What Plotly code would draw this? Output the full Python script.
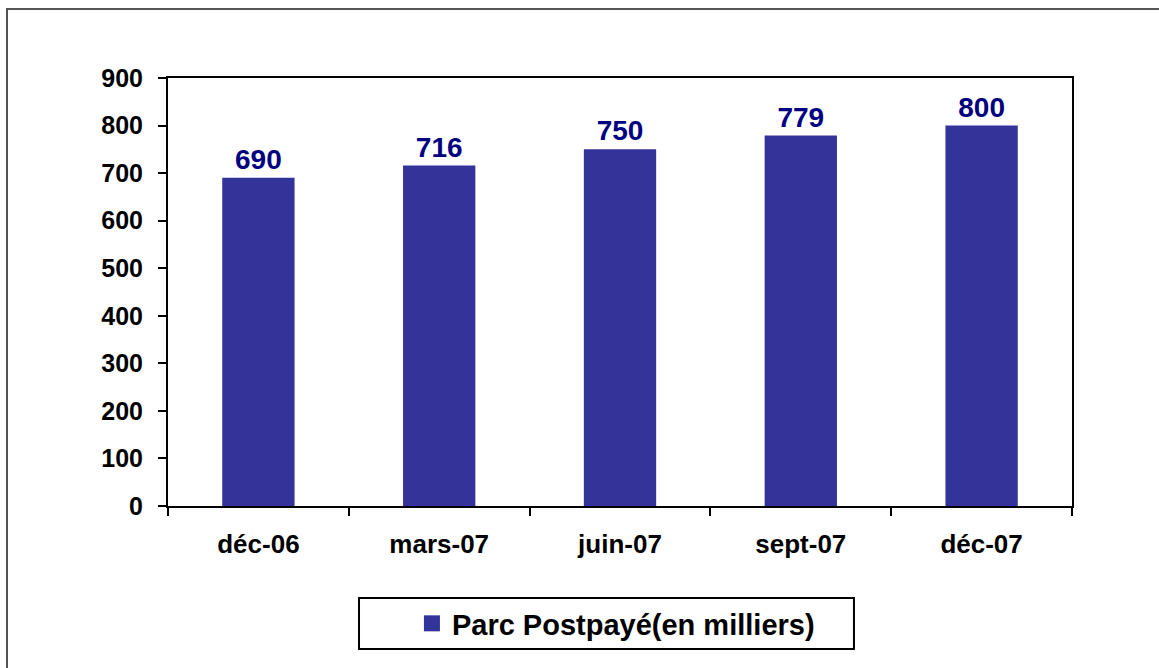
import plotly.graph_objects as go

categories = ["déc-06", "mars-07", "juin-07", "sept-07", "déc-07"]
values = [690, 716, 750, 779, 800]
series_name = "Parc Postpayé(en milliers)"
y_ticks = [0, 100, 200, 300, 400, 500, 600, 700, 800, 900]

BAR = "#333399"
LABEL = "#000080"
FONT = "Arial, Liberation Sans, sans-serif"

fig = go.Figure()
fig.add_trace(go.Bar(
    x=categories, y=values, name=series_name,
    marker=dict(color=BAR, line=dict(width=0)),
    text=[str(v) for v in values],
    textposition="outside",
    textfont=dict(color=LABEL, size=28, family=FONT, weight="bold"),
    cliponaxis=False,
    showlegend=False,
    legendgroup="s",
))
# legend entry (square swatch as in the original)
fig.add_trace(go.Scatter(
    x=[None], y=[None], mode="markers", name=series_name,
    marker=dict(symbol="square", size=20, color=BAR),
    showlegend=True, legendgroup="s",
))

fig.update_layout(
    width=1159, height=668,
    margin=dict(l=168, r=87, t=78, b=162),
    paper_bgcolor="white", plot_bgcolor="white",
    bargap=0.6,
    font=dict(family=FONT, color="black"),
    showlegend=True,
    legend=dict(
        x=0.4955, y=-0.2745, xanchor="center", yanchor="middle",
        orientation="h", bgcolor="rgba(0,0,0,0)",
        font=dict(size=29, family=FONT, color="black", weight="bold"),
        itemsizing="trace",
    ),
    uniformtext=dict(minsize=10, mode="show"),
)

fig.update_xaxes(
    type="category",
    showline=True, linecolor="black", linewidth=2, mirror=True,
    ticks="outside", ticklen=8, tickwidth=2, tickcolor="black",
    tickson="boundaries",
    showgrid=False,
    tickfont=dict(size=26, family=FONT, color="black", weight="bold"),
    ticklabelstandoff=14,
)
fig.update_yaxes(
    range=[0, 900],
    tickvals=y_ticks,
    showline=True, linecolor="black", linewidth=2, mirror=True,
    ticks="outside", ticklen=8, tickwidth=2, tickcolor="black",
    showgrid=False, zeroline=False,
    tickfont=dict(size=25, family=FONT, color="black", weight="bold"),
    ticklabelstandoff=10,
)

# legend frame
fig.add_shape(type="rect", xref="paper", yref="paper",
              x0=0.2113, x1=0.7588, y0=-0.3341, y1=-0.2150,
              line=dict(color="black", width=2), fillcolor="rgba(0,0,0,0)", layer="below")
# outer chart frame
fig.add_shape(type="rect", xref="paper", yref="paper",
              x0=-0.1781, x1=1.3, y0=-0.6, y1=1.1612,
              line=dict(color="#555555", width=2), fillcolor="rgba(0,0,0,0)", layer="below")

fig.write_html("out.html", config={"displayModeBar": False},
               post_script="document.body.style.margin='0';document.body.style.overflow='hidden';")
